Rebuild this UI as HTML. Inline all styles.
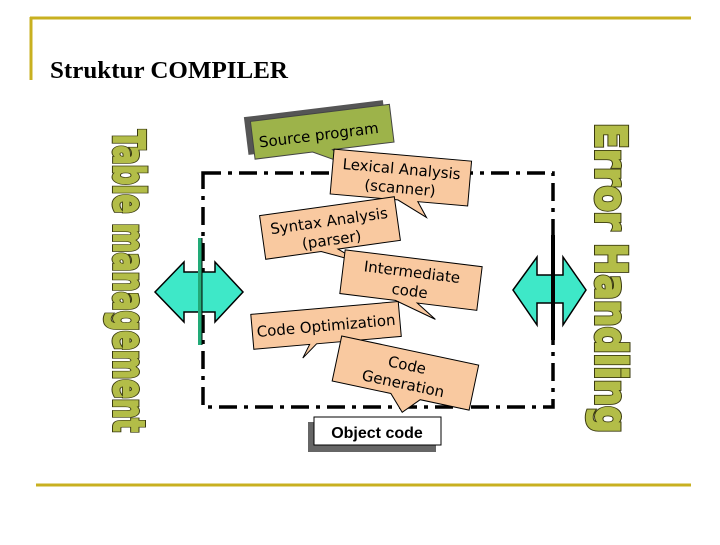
<!DOCTYPE html>
<html><head><style>
body{margin:0;background:#fff;width:720px;height:540px;overflow:hidden}
svg text{font-family:"DejaVu Sans","Liberation Sans",sans-serif}
</style></head><body>
<svg width="720" height="540" viewBox="0 0 720 540">
<line x1="30" y1="18" x2="691" y2="18" stroke="#c8b020" stroke-width="3"/>
<line x1="31" y1="17" x2="31" y2="80" stroke="#c8b020" stroke-width="3"/>
<line x1="36" y1="485" x2="691" y2="485" stroke="#c8b020" stroke-width="3"/>
<text x="50" y="78" font-weight="bold" font-size="24" textLength="238" lengthAdjust="spacingAndGlyphs" style="font-family:'Liberation Serif',serif">Struktur COMPILER</text>

<rect x="203" y="173" width="350" height="234" fill="none" stroke="#000" stroke-width="3.5" stroke-dasharray="18,7,4,7"/>

<g font-size="43" font-weight="bold">
<text transform="translate(114,130) rotate(90)" fill="none" stroke="#3a3a10" stroke-width="4" textLength="302" lengthAdjust="spacingAndGlyphs">Table management</text>
<text transform="translate(114,130) rotate(90)" fill="#b3bd48" stroke="#b3bd48" stroke-width="2" textLength="302" lengthAdjust="spacingAndGlyphs">Table management</text>
<text transform="translate(596,123) rotate(90)" fill="none" stroke="#3a3a10" stroke-width="4" textLength="310" lengthAdjust="spacingAndGlyphs">Error Handling</text>
<text transform="translate(596,123) rotate(90)" fill="#b3bd48" stroke="#b3bd48" stroke-width="2" textLength="310" lengthAdjust="spacingAndGlyphs">Error Handling</text>
</g>

<!-- arrows -->
<g fill="#3ee8c8" stroke="#000" stroke-width="1.5">
<polygon points="155,292 184,262 184,272 215,272 215,262 243,292 215,322 215,312 184,312 184,322"/>
<polygon points="513,290 537,257 537,275 563,275 563,257 586,290 563,325 563,303 537,303 537,325"/>
</g>
<rect x="198" y="238" width="4" height="107" fill="#2a7"/>
<line x1="202" y1="238" x2="202" y2="345" stroke="#000" stroke-width="1"/>
<rect x="551" y="235" width="4" height="105" fill="#000"/>

<!-- source program -->
<g transform="rotate(-7 320 130)">
<rect x="246" y="108" width="140" height="38" fill="#555"/>
<polygon points="252,113 392,113 392,151 330,151 348,170 310,151 252,151" fill="#9db34a" stroke="#444" stroke-width="1"/>
<text x="258" y="140" font-size="15" fill="#000">Source program</text>
</g>
<!-- lexical -->
<g transform="rotate(5 400 176)">
<polygon points="332,155 470,155 470,200 420,200 430,215 400,200 332,200" fill="#f9c9a0" stroke="#000" stroke-width="1"/>
<text x="401" y="174" font-size="15" text-anchor="middle">Lexical Analysis</text>
<text x="401" y="193" font-size="15" text-anchor="middle">(scanner)</text>
</g>
<!-- syntax -->
<g transform="rotate(-8 330 228)">
<polygon points="262,206 398,206 398,250 335,250 355,266 318,250 262,250" fill="#f9c9a0" stroke="#000" stroke-width="1"/>
<text x="330" y="226" font-size="15" text-anchor="middle">Syntax Analysis</text>
<text x="330" y="245" font-size="15" text-anchor="middle">(parser)</text>
</g>
<!-- intermediate -->
<g transform="rotate(7 410 280)">
<polygon points="342,258 480,258 480,302 420,302 440,316 398,302 342,302" fill="#f9c9a0" stroke="#000" stroke-width="1"/>
<text x="411" y="277" font-size="15" text-anchor="middle">Intermediate</text>
<text x="411" y="296" font-size="15" text-anchor="middle">code</text>
</g>
<!-- code optimization -->
<g transform="rotate(-5 325 325)">
<polygon points="252,308 400,308 400,343 315,343 300,356 308,343 252,343" fill="#f9c9a0" stroke="#000" stroke-width="1"/>
<text x="326" y="331" font-size="15" text-anchor="middle">Code Optimization</text>
</g>
<!-- code generation -->
<g transform="rotate(12 405 375)">
<polygon points="335,350 475,350 475,396 425,396 410,412 395,396 335,396" fill="#f9c9a0" stroke="#000" stroke-width="1"/>
<text x="405" y="370" font-size="15" text-anchor="middle">Code</text>
<text x="405" y="389" font-size="15" text-anchor="middle">Generation</text>
</g>
<!-- object code -->
<rect x="308" y="422" width="128" height="30" fill="#666"/>
<rect x="314" y="417" width="127" height="28" fill="#fff" stroke="#000" stroke-width="1"/>
<text x="377" y="438" font-size="16" font-weight="bold" text-anchor="middle" style="font-family:'Liberation Sans',sans-serif">Object code</text>
</svg>
</body></html>
